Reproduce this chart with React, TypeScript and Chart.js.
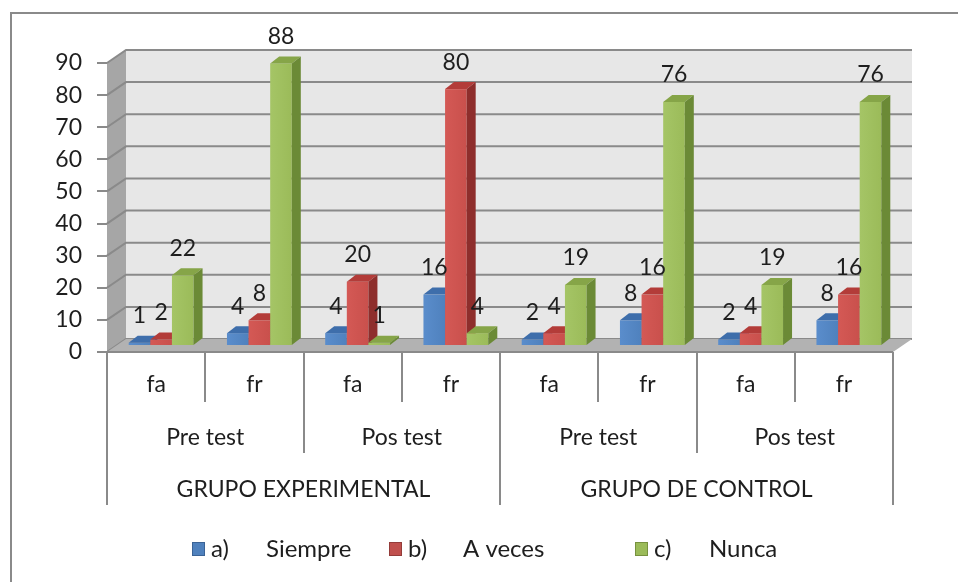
import React, { useEffect, useRef } from 'react';
import { Chart, registerables } from 'chart.js';

Chart.register(...registerables);

// ---- data ----
const freqLabels = ['fa', 'fr', 'fa', 'fr', 'fa', 'fr', 'fa', 'fr'];
const testLabels = ['Pre test', 'Pos test', 'Pre test', 'Pos test'];
const groupLabels = ['GRUPO EXPERIMENTAL', 'GRUPO DE CONTROL'];
const seriesCodes = ['a)', 'b)', 'c)'];
const seriesNames = ['Siempre', 'A veces', 'Nunca'];
const siempre = [1, 4, 4, 16, 2, 8, 2, 8];
const aVeces = [2, 8, 20, 80, 4, 16, 4, 16];
const nunca = [22, 88, 1, 4, 19, 76, 19, 76];
const yMin = 0;
const yMax = 90;
const yStep = 10;

// ---- styling / layout ----
const W = 958;
const H = 582;
const FONT = 'Lato, "Open Sans", sans-serif';
const FS = 23;
const TEXT = '#1e1e1e';
const LINE = '#8a8a8a';
const PLOT = { left: 107, right: 893, top: 63, bottom: 352 };
const WALL = { dx: 19, dy: -13 };
const BAR = { ox: 5, oy: -6, dx: 9, dy: -7 };
const palette = [
  { front: '#4f81bd', light: '#5a8dcc', top: '#3e6eab', side: '#2d5a90', box: '#4f81bd', border: '#3a6396' },
  { front: '#c9504c', light: '#d45955', top: '#b33c39', side: '#8e2e2c', box: '#c0504d', border: '#943c3a' },
  { front: '#9bbb59', light: '#a5c566', top: '#86a548', side: '#6b8a36', box: '#9bbb59', border: '#77913f' },
];
const seriesData = [siempre, aVeces, nunca];

function poly(ctx: CanvasRenderingContext2D, pts: number[][]) {
  ctx.beginPath();
  ctx.moveTo(pts[0][0], pts[0][1]);
  for (let i = 1; i < pts.length; i++) ctx.lineTo(pts[i][0], pts[i][1]);
  ctx.closePath();
  ctx.fill();
}

const threeD = {
  id: 'threeD',
  beforeDraw(chart: any) {
    const ctx: CanvasRenderingContext2D = chart.ctx;
    const { left, right, top, bottom } = chart.chartArea;
    const ys = chart.scales.y;
    ctx.save();
    ctx.fillStyle = '#ffffff';
    ctx.fillRect(0, 0, W, H);
    // outer frame
    ctx.strokeStyle = LINE;
    ctx.lineWidth = 2;
    ctx.beginPath();
    ctx.moveTo(11, H);
    ctx.lineTo(11, 13);
    ctx.lineTo(W, 13);
    ctx.stroke();
    // side wall
    ctx.fillStyle = '#a6a6a6';
    poly(ctx, [[left, top], [left + WALL.dx, top + WALL.dy], [left + WALL.dx, bottom + WALL.dy], [left, bottom]]);
    // back wall
    ctx.fillStyle = '#e7e7e7';
    ctx.fillRect(left + WALL.dx, top + WALL.dy, right - left, bottom - top);
    // gridlines
    ctx.strokeStyle = LINE;
    ctx.lineWidth = 2;
    ys.ticks.forEach((t: any) => {
      const py = ys.getPixelForValue(t.value);
      ctx.beginPath();
      ctx.moveTo(left, py);
      ctx.lineTo(left + WALL.dx, py + WALL.dy);
      ctx.lineTo(right + WALL.dx, py + WALL.dy);
      ctx.stroke();
    });
    // floor
    ctx.fillStyle = '#b2b2b2';
    poly(ctx, [[left, bottom], [right, bottom], [right + WALL.dx, bottom + WALL.dy], [left + WALL.dx, bottom + WALL.dy]]);
    ctx.restore();
  },
  beforeDatasetDraw() {
    return false;
  },
  afterDatasetsDraw(chart: any) {
    const ctx: CanvasRenderingContext2D = chart.ctx;
    ctx.save();
    const metas = [0, 1, 2].map((i) => chart.getDatasetMeta(i));
    metas.forEach((meta: any, di: number) => {
      const c = palette[di];
      meta.data.forEach((el: any) => {
        const { x, y, base, width } = el.getProps(['x', 'y', 'base', 'width'], true);
        const l = x - width / 2 + BAR.ox;
        const r = x + width / 2 + BAR.ox;
        const t = y + BAR.oy;
        const b = base + BAR.oy;
        const g = ctx.createLinearGradient(l, 0, r, 0);
        g.addColorStop(0, c.light);
        g.addColorStop(1, c.front);
        ctx.fillStyle = g;
        ctx.fillRect(l, t, r - l, b - t);
        ctx.fillStyle = c.top;
        poly(ctx, [[l, t], [r, t], [r + BAR.dx, t + BAR.dy], [l + BAR.dx, t + BAR.dy]]);
        ctx.fillStyle = c.side;
        poly(ctx, [[r, t], [r + BAR.dx, t + BAR.dy], [r + BAR.dx, b + BAR.dy], [r, b]]);
      });
    });
    // value labels
    ctx.fillStyle = TEXT;
    ctx.font = `${FS}px ${FONT}`;
    ctx.textAlign = 'center';
    ctx.textBaseline = 'middle';
    metas.forEach((meta: any, di: number) => {
      meta.data.forEach((el: any, i: number) => {
        const { x, y } = el.getProps(['x', 'y'], true);
        ctx.fillText(String(seriesData[di][i]), x + BAR.ox, y + BAR.oy - 27);
      });
    });
    ctx.restore();
  },
  afterDraw(chart: any) {
    const ctx: CanvasRenderingContext2D = chart.ctx;
    const xs = chart.scales.x;
    const { left, right, bottom } = chart.chartArea;
    const n = freqLabels.length;
    const cw = (right - left) / n;
    ctx.save();
    ctx.strokeStyle = LINE;
    ctx.lineWidth = 2;
    // front floor edge
    ctx.beginPath();
    ctx.moveTo(left - 10, bottom);
    ctx.lineTo(right, bottom);
    ctx.stroke();
    // table dividers
    for (let i = 0; i <= n; i++) {
      const px = Math.round(left + i * cw);
      let len = 50;
      if (i % 4 === 0) len = 153;
      else if (i % 2 === 0) len = 101;
      ctx.beginPath();
      ctx.moveTo(px, bottom);
      ctx.lineTo(px, bottom + len);
      ctx.stroke();
    }
    ctx.fillStyle = TEXT;
    ctx.font = `${FS}px ${FONT}`;
    ctx.textAlign = 'center';
    ctx.textBaseline = 'middle';
    freqLabels.forEach((lab, i) => {
      ctx.fillText(lab, xs.getPixelForValue(i), bottom + 33);
    });
    testLabels.forEach((lab, i) => {
      const cx = (xs.getPixelForValue(i * 2) + xs.getPixelForValue(i * 2 + 1)) / 2;
      ctx.fillText(lab, cx, bottom + 86);
    });
    groupLabels.forEach((lab, i) => {
      const cx = (xs.getPixelForValue(i * 4) + xs.getPixelForValue(i * 4 + 3)) / 2;
      ctx.fillText(lab, cx, bottom + 138);
    });
    // legend
    const legendX = [192, 389, 635];
    const ly = 549;
    ctx.textAlign = 'left';
    ctx.font = `24px ${FONT}`;
    seriesNames.forEach((name, i) => {
      const bx = legendX[i];
      const c = palette[i];
      ctx.fillStyle = c.box;
      ctx.fillRect(bx, ly - 7, 13, 14);
      ctx.strokeStyle = c.border;
      ctx.lineWidth = 1;
      ctx.strokeRect(bx + 0.5, ly - 6.5, 12, 13);
      ctx.fillStyle = TEXT;
      ctx.fillText(seriesCodes[i], bx + 19, ly);
      ctx.fillText(name, bx + 74, ly);
    });
    ctx.restore();
  },
};

export default function App() {
  const ref = useRef<HTMLCanvasElement | null>(null);
  useEffect(() => {
    if (!ref.current) return;
    const chart = new Chart(ref.current, {
      type: 'bar',
      data: {
        labels: freqLabels.map((f, i) => [f, testLabels[Math.floor(i / 2)], groupLabels[Math.floor(i / 4)]]),
        datasets: seriesNames.map((name, i) => ({
          label: `${seriesCodes[i]} ${name}`,
          data: seriesData[i],
          backgroundColor: palette[i].front,
          categoryPercentage: 0.66,
          barPercentage: 1,
        })),
      },
      options: {
        responsive: false,
        animation: false,
        layout: { padding: { left: 0, top: PLOT.top, right: W - PLOT.right, bottom: 0 } },
        plugins: { legend: { display: false }, tooltip: { enabled: false } },
        scales: {
          x: {
            display: true,
            grid: { display: false },
            border: { display: false },
            ticks: { display: false },
            afterFit: (s: any) => {
              s.height = H - PLOT.bottom;
            },
          },
          y: {
            min: yMin,
            max: yMax,
            ticks: { stepSize: yStep, color: TEXT, font: { family: FONT, size: FS }, padding: 15 },
            grid: { drawOnChartArea: false, drawTicks: true, tickLength: 10, color: LINE, lineWidth: 2 },
            border: { display: false },
            afterFit: (s: any) => {
              s.width = PLOT.left;
            },
          },
        },
      },
      plugins: [threeD],
    });
    return () => chart.destroy();
  }, []);
  return (
    <div style={{ position: 'fixed', left: 0, top: 0, width: W, height: H, background: '#fff' }}>
      <canvas ref={ref} width={W} height={H} style={{ width: W, height: H, display: 'block' }} />
    </div>
  );
}
